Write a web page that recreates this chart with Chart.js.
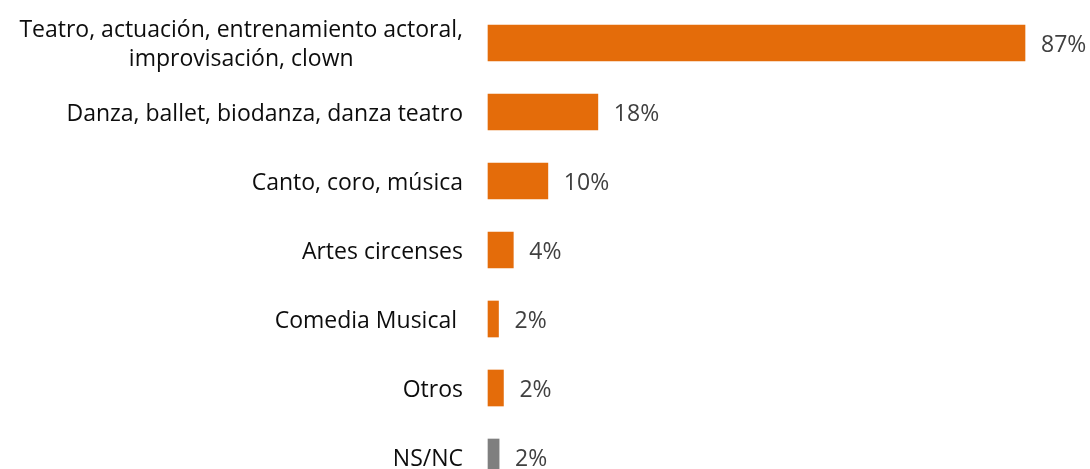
<!DOCTYPE html>
<html>
<head>
<meta charset="utf-8">
<script src="https://cdn.jsdelivr.net/npm/chart.js@4"></script>
<style>
  html, body { margin: 0; padding: 0; background: #fff; }
  #wrap { width: 1090px; height: 469px; }
</style>
</head>
<body>
<div id="wrap"><canvas id="myChart" width="1090" height="469"></canvas></div>
<script>
// data
const categories = [
  ["Teatro, actuación, entrenamiento actoral,", "improvisación, clown"],
  "Danza, ballet, biodanza, danza teatro",
  "Canto, coro, música",
  "Artes circenses",
  "Comedia Musical ",
  "Otros",
  "NS/NC"
];
const values = [87, 17.8, 9.7, 4.1, 1.7, 2.5, 1.8];
const valueLabels = ["87%", "18%", "10%", "4%", "2%", "2%", "2%"];
const barColors = ["#E46C0A", "#E46C0A", "#E46C0A", "#E46C0A", "#E46C0A", "#E46C0A", "#7F7F7F"];

const fontFamily = "'Open Sans', Lato, sans-serif";

// left labels: block right aligned, lines centred on each other
const categoryLabels = {
  id: "categoryLabels",
  afterDraw(chart) {
    const c = chart.ctx;
    const yScale = chart.scales.y;
    c.save();
    c.font = "23px " + fontFamily;
    c.fillStyle = "#0d0d0d";
    c.textBaseline = "middle";
    c.textAlign = "center";
    const right = 463;
    const lineH = 29;
    categories.forEach(function (lab, i) {
      const lines = Array.isArray(lab) ? lab : [lab];
      const widest = Math.max.apply(null, lines.map(function (l) { return c.measureText(l).width; }));
      const cy = yScale.getPixelForValue(i) + 2;
      const top = cy - (lines.length - 1) * lineH / 2;
      lines.forEach(function (l, j) {
        c.fillText(l, right - widest / 2, top + j * lineH);
      });
    });
    c.restore();
  }
};

const valueLabelsPlugin = {
  id: "valueLabels",
  afterDatasetsDraw(chart) {
    const c = chart.ctx;
    const meta = chart.getDatasetMeta(0);
    c.save();
    c.font = "23px " + fontFamily;
    c.fillStyle = "#404040";
    c.textBaseline = "middle";
    c.textAlign = "left";
    meta.data.forEach(function (bar, i) {
      c.fillText(valueLabels[i], bar.x + 16, bar.y + 2);
    });
    c.restore();
  }
};

const ctx = document.getElementById("myChart");
const myChart = new Chart(ctx, {
  type: "bar",
  data: {
    labels: categories,
    datasets: [{
      data: values,
      backgroundColor: barColors,
      borderWidth: 0,
      barThickness: 36,
      clip: false
    }]
  },
  options: {
    indexAxis: "y",
    responsive: false,
    animation: false,
    layout: {
      padding: { left: 488, right: 65, top: 43, bottom: 12 }
    },
    scales: {
      x: {
        display: false,
        min: 0,
        max: 87
      },
      y: {
        display: false,
        offset: false,
        grid: { display: false }
      }
    },
    plugins: {
      legend: { display: false },
      tooltip: { enabled: false }
    }
  },
  plugins: [categoryLabels, valueLabelsPlugin]
});
</script>
</body>
</html>
